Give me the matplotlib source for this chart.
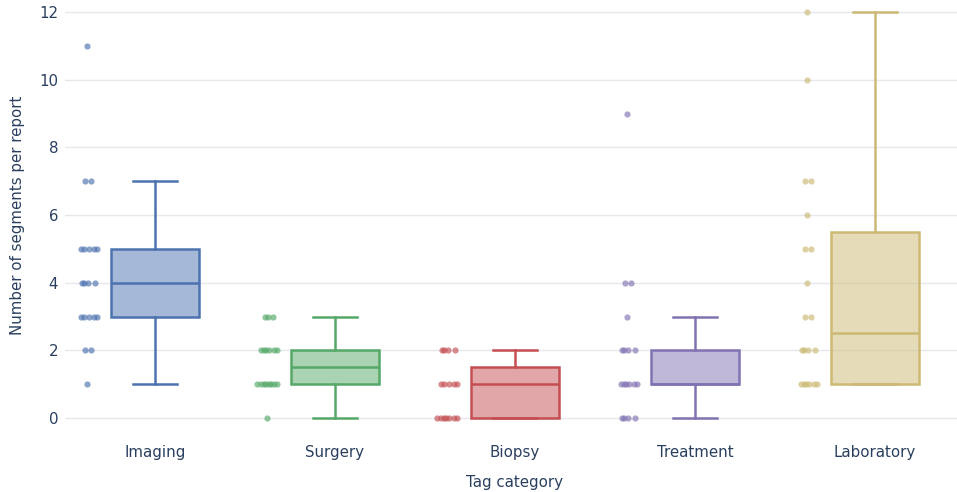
import numpy as np
import matplotlib
matplotlib.use("Agg")
import matplotlib.pyplot as plt

# segments per report, one list per tag category
categories = ["Imaging", "Surgery", "Biopsy", "Treatment", "Laboratory"]
imaging = [11, 7, 7, 5, 5, 5, 5, 5, 4, 4, 4, 4, 3, 3, 3, 3, 3, 2, 2, 1]
surgery = [3, 3, 3, 2, 2, 2, 2, 2, 2, 1, 1, 1, 1, 1, 1, 1, 1, 0]
biopsy = [2, 2, 2, 2, 1, 1, 1, 1, 1, 0, 0, 0, 0, 0, 0, 0]
treatment = [9, 4, 4, 3, 2, 2, 2, 2, 1, 1, 1, 1, 1, 1, 0, 0, 0, 0]
laboratory = [12, 10, 7, 7, 6, 5, 5, 4, 3, 3, 2, 2, 2, 2, 1, 1, 1, 1, 1, 1]
series = [imaging, surgery, biopsy, treatment, laboratory]
colors = ["#4C72B0", "#55A868", "#C44E52", "#8172B2", "#CCB974"]

TEXT = "#2a3f5f"
GRID = "#E6E8EC"


def box_stats(values):
    v = np.sort(np.asarray(values, dtype=float))
    q1, med, q3 = np.percentile(v, [25, 50, 75], method="hazen")
    iqr = q3 - q1
    lo = v[v >= q1 - 1.5 * iqr].min()
    hi = v[v <= q3 + 1.5 * iqr].max()
    return dict(med=med, q1=q1, q3=q3, whislo=lo, whishi=hi, fliers=[])


def jitter_offsets(values, spread):
    # spread repeated values sideways so they don't sit on top of each other
    values = np.asarray(values)
    out = np.zeros(len(values))
    for val in np.unique(values):
        idx = np.where(values == val)[0]
        k = len(idx)
        if k == 1:
            continue
        width = spread * min(1.0, k / 5.0)
        seq = (np.arange(k) * 0.618034 + 0.37) % 1.0
        out[idx] = (seq - 0.5) * 2 * width
    return out


fig = plt.figure(figsize=(9.57, 4.92), dpi=100)
ax = fig.add_axes([65 / 957, 53 / 492, 900 / 957, 439 / 492])

box_w = 0.49
for i, (vals, c) in enumerate(zip(series, colors)):
    st = box_stats(vals)
    ax.bxp([st], positions=[i], widths=box_w, patch_artist=True,
           showfliers=False, manage_ticks=False,
           boxprops=dict(facecolor=matplotlib.colors.to_rgba(c, 0.5), edgecolor=c, linewidth=1.8),
           medianprops=dict(color=c, linewidth=1.8),
           whiskerprops=dict(color=c, linewidth=1.8),
           capprops=dict(color=c, linewidth=1.8),
           capwidths=box_w / 2)
    xs = i - 0.38 + jitter_offsets(vals, 0.06)
    ax.scatter(xs, vals, s=20, color=c, alpha=0.65, linewidths=0, zorder=3)

ax.set_xlim(-0.5, 4.5)
ax.set_ylim(-0.62, 12.355)
ax.set_yticks(range(0, 13, 2))
ax.set_xticks(range(len(categories)))
ax.set_xticklabels(categories)
ax.grid(axis="y", color=GRID, linewidth=1)
ax.set_axisbelow(True)
for s in ax.spines.values():
    s.set_visible(False)
ax.tick_params(axis="both", length=0, labelsize=10.8, colors=TEXT)
ax.tick_params(axis="y", pad=5)
ax.tick_params(axis="x", pad=4)

fig.text(18 / 957, 1 - 215 / 492, "Number of segments per report", rotation=90,
         ha="center", va="center", fontsize=10.8, color=TEXT)
fig.text(515 / 957, 1 - 482 / 492, "Tag category",
         ha="center", va="center", fontsize=10.8, color=TEXT)

fig.savefig("out.png", dpi=100)
